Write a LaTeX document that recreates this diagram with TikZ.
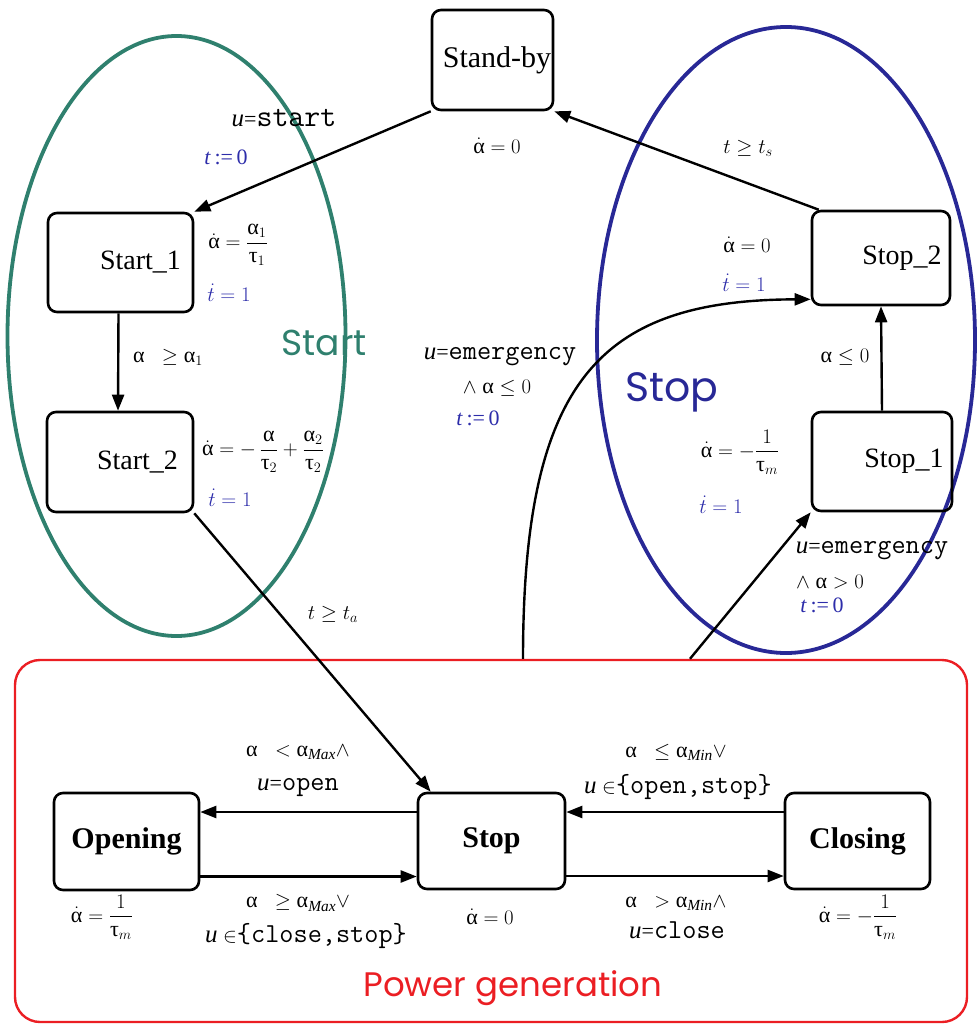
\documentclass[tikz,border=0pt]{standalone}
\usepackage{amsmath}
\usepackage{fontspec}
\setmainfont{Liberation Serif}
\newfontfamily\geofont{Poppins}
\usetikzlibrary{arrows.meta,calc}

\definecolor{startgreen}{RGB}{47,128,110}
\definecolor{stopblue}{RGB}{40,40,150}
\definecolor{clockblue}{RGB}{45,45,170}
\definecolor{powred}{RGB}{235,30,35}

% Greek letters taken from the text font, keyword text in mono
\newcommand\myal{\text{α}}
\newcommand\mytau{\text{τ}}
\newcommand\mono[1]{{\fontsize{27.5}{30}\selectfont\ttfamily #1}}
\newcommand\uu{{\fontsize{25}{28}\selectfont\textit{u}}}

\begin{document}
\begin{tikzpicture}[x=1pt,y=-1pt,
  state/.style={draw, line width=2.6pt, rounded corners=9pt, inner sep=0pt,
                font=\fontsize{28}{30}\selectfont},
  mode/.style={state, font=\fontsize{30}{32}\selectfont\bfseries},
  trans/.style={line width=2.4pt, -{Triangle[length=16pt,width=12pt]}},
  eq/.style={font=\fontsize{22}{24}\selectfont, inner sep=0pt},
  clock/.style={eq, text=clockblue},
  small/.style={eq, font=\fontsize{20}{22}\selectfont},
  region/.style={font=\geofont, inner sep=0pt}
]
\useasboundingbox (0,0) rectangle (977,1025);

% the two sub-mode regions and the power generation block
\draw[startgreen, line width=3.8pt] (176.5,336) ellipse [x radius=169pt, y radius=300pt];
\draw[stopblue, line width=3.8pt] (786,340) ellipse [x radius=189pt, y radius=313pt];
\node[draw=powred, line width=2.4pt, rounded corners=25pt, minimum width=952pt,
      minimum height=362pt, inner sep=0pt] (pg) at (491,841) {};

\node[region, text=startgreen, font=\fontsize{36}{40}\selectfont\geofont] (lstart) at (324,343) {Start};
\node[region, text=stopblue, font=\fontsize{41}{44}\selectfont\geofont] (lstop) at (672,392) {Stop};
\node[region, text=powred, font=\fontsize{34}{38}\selectfont\geofont] (lpow) at (513,988) {Power generation};

% discrete states
\node[state, minimum width=121pt, minimum height=100pt, font=\fontsize{30}{32}\selectfont] (sb) at (492.5,60) {\hspace*{9pt}Stand-by};
\node[state, minimum width=145pt, minimum height=99pt] (s1) at (120.5,262.5) {\hspace*{40pt}Start\_1};
\node[state, minimum width=146pt, minimum height=100pt] (s2) at (120,462) {\hspace*{35pt}Start\_2};
\node[state, minimum width=138pt, minimum height=94pt] (st2) at (881,258) {\hspace*{42pt}Stop\_2};
\node[state, minimum width=140pt, minimum height=99pt] (st1) at (882,461.5) {\hspace*{44pt}Stop\_1};

\node[mode, minimum width=145pt, minimum height=97pt] (open) at (126.5,841.5) {Opening};
\node[mode, minimum width=147pt, minimum height=96pt] (stop) at (491.5,841) {Stop};
\node[mode, minimum width=145pt, minimum height=96pt] (close) at (857.5,841) {Closing};

% transitions
\draw[trans] (sb.south west) -- (s1.north east);
\draw[trans] ([xshift=-2pt]s1.south) -- ([xshift=-2pt]s2.north);
\draw[trans] (s2.south east) -- ($(stop.north west)+(14,0)$);
\draw[trans] ($(st2.north west)+(8,0)$) -- (sb.south east);
\draw[trans] (st1.north) -- (st2.south);
\draw[trans] ($(pg.north)+(32,0)$) .. controls (523,380) and (600,300) .. ($(st2.south west)+(0,-7)$);
\draw[trans] ($(pg.north)+(199,0)$) -- (st1.south west);

\draw[trans] ([yshift=29pt]stop.west) -- ([yshift=29pt]stop.west -| open.east);
\draw[trans] ([yshift=-35pt]open.east) -- ([yshift=-35pt]open.east -| stop.west);
\draw[trans] ([yshift=29pt]close.west) -- ([yshift=29pt]close.west -| stop.east);
\draw[trans] ([yshift=-35pt]stop.east) -- ([yshift=-35pt]stop.east -| close.west);

% guards and resets
\node[eq] (g1a) at (284,118) {\uu=\mono{\fontsize{31}{32}\selectfont start}};
\node[clock] (g1b) at (226,157) {\textit{t}\,:=\,0};
\node[eq] (g2) at (168,357) {$\myal\;\; \geq \myal_{1}$};
\node[small] (g3) at (333,614) {$t \geq t_{a}$};
\node[small] (g4) at (748,148) {$t \geq t_{s}$};
\node[eq] (g5) at (845,357) {$\myal \leq 0$};
\node[eq] (g6a) at (500,357) {\uu=\mono{emergency}};
\node[eq] (g6b) at (497,388) {$\wedge\;\myal \leq 0$};
\node[clock] (g6c) at (478,418) {\textit{t}\,:=\,0};
\node[eq] (g7a) at (872,551) {\uu=\mono{emergency}};
\node[eq] (g7b) at (830,582) {$\wedge\;\myal > 0$};
\node[clock] (g7c) at (822,605) {\textit{t}\,:=\,0};

\node[eq] (g8a) at (298,752) {$\myal\;\; < \myal_{\mathit{Max}} \wedge$};
\node[eq] (g8b) at (298,787) {\uu=\mono{open}};
\node[eq] (g9a) at (298,903) {$\myal\;\; \geq \myal_{\mathit{Max}} \vee$};
\node[eq] (g9b) at (306,936) {\uu\ $\in$\mono{\{close,stop\}}};
\node[eq] (g10a) at (676,752) {$\myal\;\; \leq \myal_{\mathit{Min}} \vee$};
\node[eq] (g10b) at (678,787) {\uu\ $\in$\mono{\{open,stop\}}};
\node[eq] (g11a) at (676,903) {$\myal\;\; > \myal_{\mathit{Min}} \wedge$};
\node[eq] (g11b) at (677,930) {\uu=\mono{close}};

% flow equations of each state
\node[eq] (e0) at (497,146) {$\dot{\myal} = 0$};
\node[eq] (e1) at (238,245) {$\dot{\myal} = \dfrac{\myal_{1}}{\mytau_{1}}$};
\node[clock] (c1) at (229,293) {$\dot{t} = 1$};
\node[eq] (e2) at (263,452) {$\dot{\myal} = -\,\dfrac{\myal}{\mytau_{2}} + \dfrac{\myal_{2}}{\mytau_{2}}$};
\node[clock] (c2) at (230,498) {$\dot{t} = 1$};
\node[eq] (e3) at (747,245) {$\dot{\myal} = 0$};
\node[clock] (c3) at (744,283) {$\dot{t} = 1$};
\node[eq] (e4) at (740,452) {$\dot{\myal} = -\dfrac{1}{\mytau_{m}}$};
\node[clock] (c4) at (721,505) {$\dot{t} = 1$};
\node[eq] (e5) at (102,917) {$\dot{\myal} = \dfrac{1}{\mytau_{m}}$};
\node[eq] (e6) at (490,917) {$\dot{\myal} = 0$};
\node[eq] (e7) at (858,917) {$\dot{\myal} = -\dfrac{1}{\mytau_{m}}$};
\end{tikzpicture}
\end{document}
